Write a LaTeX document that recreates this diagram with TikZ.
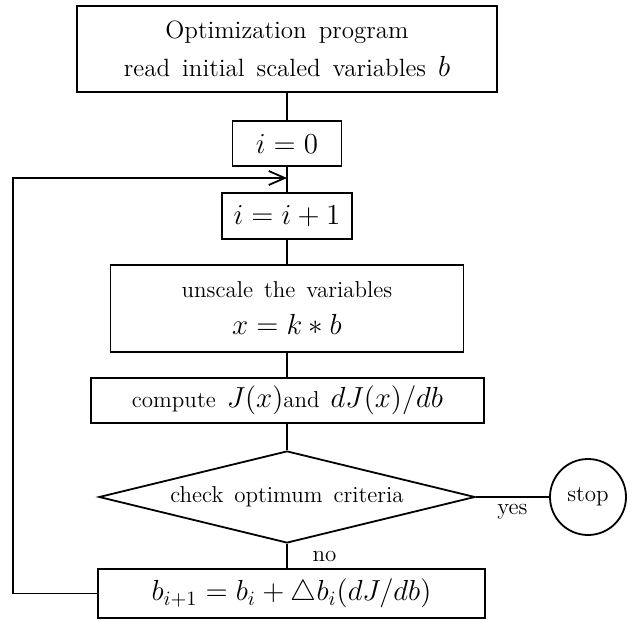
\RequirePackage{fix-cm}
\documentclass[tikz,border=0pt]{standalone}
\usepackage{amsmath,amssymb}
\usepackage{tikz}
\usetikzlibrary{shapes.geometric}
\usetikzlibrary{arrows.meta}
\usetikzlibrary{positioning}

\newcommand{\bigmath}{\fontsize{14.5}{17}\selectfont}
\newcommand{\boxfont}{\fontsize{11.5}{18.5}\selectfont\spaceskip=5.5pt plus 1pt\relax}
\newcommand{\headfont}{\fontsize{12.5}{19}\selectfont\spaceskip=6pt plus 1pt\relax}

\begin{document}
\begin{tikzpicture}[x=0.5pt, y=-0.5pt, line width=0.9pt,
  every node/.style={font=\boxfont},
  procbox/.style={draw, rectangle, inner sep=0pt, align=center}]
\useasboundingbox (0,0) rectangle (639,621);

\node[procbox, minimum width=210pt, minimum height=43pt, font=\headfont] (Start) at (287,49) {Optimization program\\read initial scaled variables {\bigmath$b$}};
\node[procbox, minimum width=54.5pt, minimum height=22.5pt, font=\bigmath] (InitIndex) at (287,143.5) {$i=0$};
\node[procbox, minimum width=65pt, minimum height=23pt, font=\bigmath] (NextIndex) at (287,216) {$i=i+1$};
\node[procbox, minimum width=176.5pt, minimum height=43.5pt] (Unscale) at (287,308.5) {unscale the variables\\{\bigmath$x=k*b$}};
\node[procbox, minimum width=196.5pt, minimum height=22.5pt] (Compute) at (287.5,400.5) {compute {\bigmath$J(x)$}and {\bigmath$dJ(x)/db$}};
\node[draw, diamond, aspect=4, inner sep=0pt, minimum width=188pt, minimum height=46pt] (Check) at (287,497) {check optimum criteria};
\node[draw, circle, minimum size=38pt, inner sep=0pt] (Stop) at (588,497) {stop};
\node[procbox, minimum width=193.5pt, minimum height=24.5pt, font=\bigmath] (Update) at (291.5,593.5) {$b_{i+1}=b_i+\triangle b_i(dJ/db)$};

\coordinate (Join) at (287,178);

\draw (Start) -- (InitIndex);
\draw (InitIndex) -- (NextIndex);
\draw (NextIndex) -- (Unscale);
\draw (Unscale) -- (Compute.north -| Unscale.south);
\draw (Compute.south -| Check.north) -- (Check);
\draw (Check) -- (Stop) node[midway, below] {yes};
\draw (Check.south) -- (Check.south |- Update.north) node[midway, right=9pt] {no};
\draw[-{Straight Barb[length=8pt, width=7pt]}] (Update.west) -- ++(-84,0) |- (Join);
\end{tikzpicture}
\end{document}
